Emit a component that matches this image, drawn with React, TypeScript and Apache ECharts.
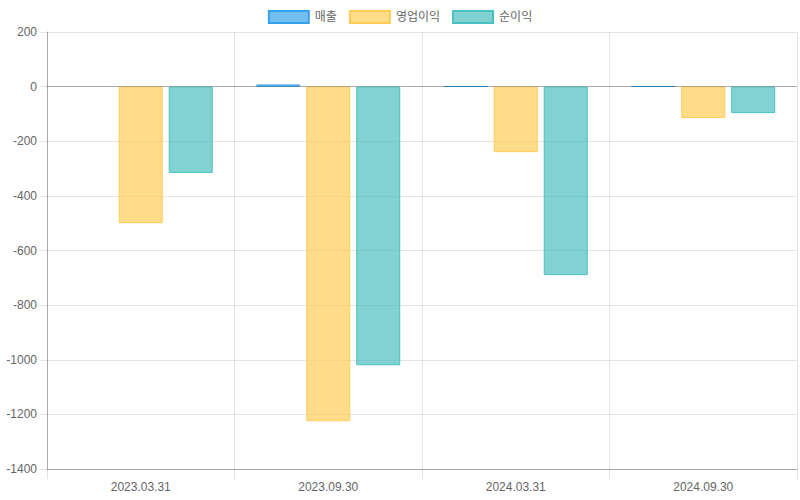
import React, { useEffect, useRef } from "react";
import * as echarts from "echarts";

const categories = ["2023.03.31", "2023.09.30", "2024.03.31", "2024.09.30"];
const sales = [0, 8, 1, 1];
const operatingProfit = [-500, -1225, -240, -115];
const netProfit = [-316, -1020, -690, -97];
const seriesNames = ["매출", "영업이익", "순이익"];

const FONT = "'Liberation Sans', 'Noto Sans CJK KR', Arial, sans-serif";

export default function App() {
  const ref = useRef<HTMLDivElement>(null);
  useEffect(() => {
    if (!ref.current) return;
    const chart = echarts.init(ref.current, undefined, { renderer: "svg" });
    const mk = (name: string, data: number[], fill: string, border: string, withZero = false) => ({
      name,
      type: "bar",
      data: data.map((v) => (v === 0 ? { value: 0, itemStyle: { borderWidth: 0 } } : v)),
      barWidth: 44,
      barGap: "13.6%",
      itemStyle: { color: fill, borderColor: border, borderWidth: 1 },
      ...(withZero
        ? {
            markLine: {
              silent: true,
              symbol: "none",
              label: { show: false },
              lineStyle: { color: "rgba(0,0,0,0.25)", type: "solid", width: 1 },
              data: [{ yAxis: 0 }],
            },
          }
        : {}),
    });
    chart.setOption({
      animation: false,
      textStyle: { fontFamily: FONT },
      legend: {
        top: 10,
        left: "center",
        padding: 0,
        icon: "rect",
        itemWidth: 40,
        itemHeight: 12,
        itemGap: 12,
        textStyle: { color: "#666", fontSize: 12, fontFamily: FONT, padding: [0, 0, 0, 1] },
        data: seriesNames,
      },
      grid: { left: 47, right: 3, top: 32, bottom: 31, containLabel: false },
      xAxis: {
        type: "category",
        data: categories,
        axisLine: { show: true, onZero: false, lineStyle: { color: "rgba(0,0,0,0.25)" } },
        axisTick: { show: true, length: 10, lineStyle: { color: "rgba(0,0,0,0.1)" } },
        splitLine: { show: true, lineStyle: { color: "rgba(0,0,0,0.1)" } },
        axisLabel: { color: "#666", fontSize: 12, margin: 12, fontFamily: FONT },
      },
      yAxis: {
        type: "value",
        min: -1400,
        max: 200,
        interval: 200,
        axisLine: { show: true, lineStyle: { color: "rgba(0,0,0,0.25)" } },
        axisTick: { show: true, length: 7, lineStyle: { color: "rgba(0,0,0,0.1)" } },
        splitLine: { show: true, lineStyle: { color: "rgba(0,0,0,0.1)" } },
        axisLabel: {
          color: "#666",
          fontSize: 12,
          margin: 10,
          fontFamily: FONT,
          formatter: (v: number) => String(v),
        },
      },
      series: [
        mk(seriesNames[0], sales, "rgba(54,162,235,0.7)", "rgb(54,162,235)"),
        mk(seriesNames[1], operatingProfit, "rgba(255,205,86,0.7)", "rgb(255,205,86)"),
        mk(seriesNames[2], netProfit, "rgba(75,192,192,0.7)", "rgb(75,192,192)", true),
      ],
    });
    return () => chart.dispose();
  }, []);
  return <div ref={ref} style={{ width: 800, height: 500, position: "absolute", left: 0, top: 0 }} />;
}
